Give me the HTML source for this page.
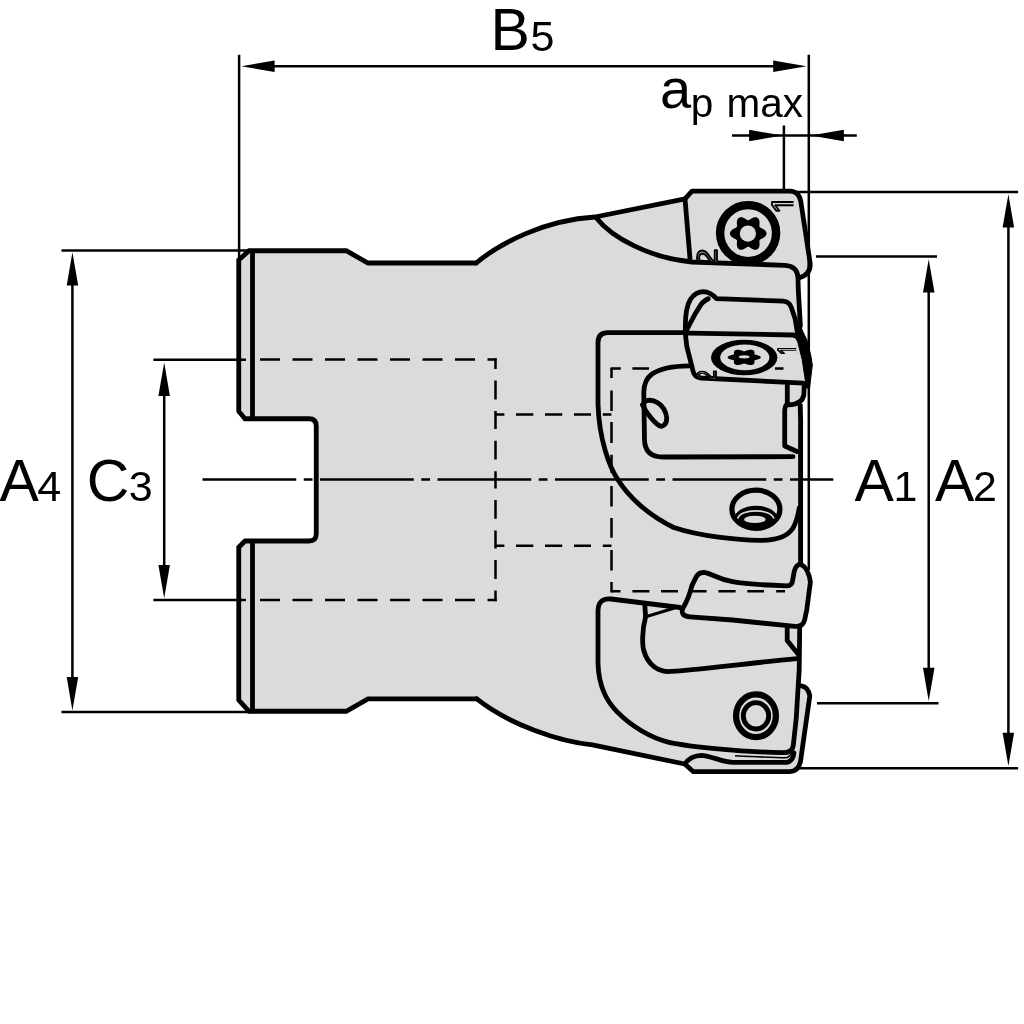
<!DOCTYPE html>
<html><head><meta charset="utf-8"><title>Milling cutter dimensions</title>
<style>html,body{margin:0;padding:0;background:#fff;}svg{display:block;filter:grayscale(1);}</style>
</head><body>
<svg width="1024" height="1024" viewBox="0 0 1024 1024">
<rect width="1024" height="1024" fill="#fff"/>
<g fill="#dbdbdb" stroke="none">
<path d="M238.75,260 L249,250.75 L346.25,250.75 L368,263 L476.25,263 C500,243 545,220 595,217 L685,198.8 L692,191.2 L790,191.2 Q799,191.5 800.8,201.5 L810,262 Q811.5,274 800,277.5 L800.5,564 L795,750 L800.5,761.5 Q798,771 790,771.7 L693.4,771.7 L684.8,764 L592.4,744.9 C560,742 510,725 476.8,698.9 L368,698.9 L346.25,711.25 L249,711.25 L238.75,700 L238.75,547.25 L245,541 L311,541 Q316.25,541 316.25,536 L316.25,424 Q316.25,418.75 311,418.75 L245,418.75 L238.75,411.25 Z"/>
<path d="M687.5,333.5 L706,301 L717,299 L779.4,301.25 C790,302 794,310 796,318 L803.5,341 L810.5,364 Q811,376 803,381 L803,397 L800,402 L790,383 L700,379.4 Q694,379 692.5,373 L686,338 Z"/>
<path d="M801.25,564.5 L808.3,573 L809.8,582.5 L807.5,610.6 L804.4,623 L795,626.25 L795,570 Z"/>
<path d="M801.25,685.8 Q808.5,687 809.8,696 L800.5,761.5 L795,750 Z"/>
</g>
<g fill="none" stroke="#000" stroke-width="4.8" stroke-linejoin="round" stroke-linecap="round">
<path d="M476.25,263 L368,263 L346.25,250.75 L249,250.75 L238.75,260 L238.75,411.25 L245,418.75 L309,418.75 Q316.25,418.75 316.25,426 L316.25,534 Q316.25,541 309,541 L245,541 L238.75,547.25 L238.75,700 L249,711.25 L346.25,711.25 L368,698.9 L476.8,698.9" stroke-linejoin="miter"/>
<path d="M252.5,250.75 L252.5,418.75 M252.5,541 L252.5,711.25" stroke-linecap="butt"/>
<path d="M476.25,263 C500,243 545,220 595,217 L685,198.8"/>
<path d="M476.8,698.9 C510,725 560,742 592.4,744.9 L684.8,764"/>
<path d="M596,217.5 C612,238 650,258 692,262 L785,265.3 Q797.5,266 798,278 L798.3,290 L800.4,326"/>
<path d="M690,258.5 L685,198.8 L692,191.2 L790,191.2 Q799,191.5 800.8,201.5 L810,262 Q811.5,274 800,277.5"/>
<path d="M685.4,331 C685,318 686.5,306 690.3,299.5 C694,294 698.5,291.8 703.6,291.7 C709,291.8 713,295 716.5,298.6 L783.4,301.2 C788,301.5 790,304 791.25,307.3 L795.2,319 L797.5,333"/>
<path d="M708.3,298.75 C704,301 702,303 701.25,304.2 C698,309 692,319.5 689.5,324.5 L686.4,330.8"/>
<path d="M803.5,383.2 L701,378 Q694.5,377.5 693,371 L686.8,346.4 L685.6,336 Q685.3,333 688.5,333.1 L793,335 Q797,335.2 798.5,339"/>
<path d="M800.6,326 L803,332 L806.9,340 L810.8,355.6 L812.3,365 L810.8,377.5 L809.6,388 L806,388 L804.9,377.5 L802.2,359.5 L799.8,350.3 L797.3,340 L797.5,333 Z" fill="#000" stroke-width="1"/>
<path d="M787.3,384 L787.3,404.8 C796,405 802.5,402 803.9,394.7 L804.2,385"/>
<path d="M786.3,405 Q784.7,407 784.7,412 L784.7,446 L797,451.5"/>
<path d="M800.2,404 L800.6,420 L800.6,564" stroke-linecap="butt" stroke-width="4.9"/>
<path d="M686,332.7 L608,332.7 Q598,332.7 598,342.7 L598,404 C599,440 610,468 617.5,479 C629,498 650,516 673.75,527.5 C700,536.3 738,540.2 760,540.3 C776,540.4 788,536 793,528 C796.5,522 798,516 799.2,508"/>
<path d="M689.4,365.8 C672,366 660,368.5 652,374 C646,378.5 644,384 643.8,392 L644.5,440 Q645,457 663,457 L793,456.7"/>
<path d="M644,402 C652,397 665,404 666.7,417.8 C667,424 663,427 660,426 C654,423 646,412 642.5,405"/>
<path d="M695,579.4 Q698,571.5 705.5,572.6 C712,574 718,579 732.5,581.7 C745,584 770,585.3 787,585.8 C791.5,585.8 792.5,582 792.7,580 L794.2,571.5 Q796,564 801,564.3 Q808.5,568 810.4,582 L806.7,610.3 L804.6,620 Q803,627 795,626.4 L732.5,620 L690,616.9 Q680.5,616 682.5,609 C686,603 689.5,596 691.9,585.6 Z"/>
<path d="M680,607.5 L611,599 Q598,598 598,611 L598,663.75 C599,690 610,705 617.8,712.4 C630,725 650,738 670,742.6 C690,746.8 740,751.6 782.5,752.7 Q792,753 793.2,746 L796.2,718.8 L799.2,670 L799.7,626"/>
<path d="M644.8,604.4 L645.6,616.9 C642,630 642,645 644,651.25 C648,665 658,671 667.5,671.6 C690,671 740,664 797,658.6"/>
<path d="M645,617 L673.75,608.3" stroke-width="3"/>
<path d="M787.2,628 L787.2,640.6 L798,654"/>
<path d="M801.25,685.8 Q808.5,687 809.8,696 L800.5,761.5 Q798.5,771 790,771.7 L693.4,771.7 L684.8,764 Q690,756 701,755.3 C712,756 722,762 732.5,762.3 L787,762.3 Q793,761 794,753"/>
</g>
<circle cx="748.1" cy="233.1" r="28" fill="none" stroke="#000" stroke-width="8.4"/>
<path d="M766.50,233.50 L766.41,234.29 L766.14,235.07 L765.70,235.80 L765.13,236.48 L764.44,237.10 L763.67,237.65 L762.87,238.12 L762.06,238.55 L761.30,238.93 L760.61,239.29 L760.03,239.66 L759.61,240.09 L759.45,240.67 L759.41,241.35 L759.45,242.13 L759.50,242.98 L759.54,243.89 L759.53,244.83 L759.44,245.76 L759.25,246.67 L758.95,247.51 L758.53,248.25 L757.99,248.87 L757.35,249.35 L756.62,249.67 L755.81,249.82 L754.96,249.81 L754.08,249.65 L753.20,249.36 L752.35,248.97 L751.53,248.52 L750.76,248.03 L750.05,247.56 L749.39,247.14 L748.78,246.82 L748.20,246.68 L747.62,246.82 L747.01,247.14 L746.35,247.56 L745.64,248.03 L744.87,248.52 L744.05,248.97 L743.20,249.36 L742.32,249.65 L741.44,249.81 L740.59,249.82 L739.78,249.67 L739.05,249.35 L738.41,248.87 L737.87,248.25 L737.45,247.51 L737.15,246.67 L736.96,245.76 L736.87,244.83 L736.86,243.89 L736.90,242.98 L736.95,242.13 L736.99,241.35 L736.95,240.67 L736.79,240.09 L736.37,239.66 L735.79,239.29 L735.10,238.93 L734.34,238.55 L733.53,238.12 L732.73,237.65 L731.96,237.10 L731.27,236.48 L730.70,235.80 L730.26,235.07 L729.99,234.29 L729.90,233.50 L729.99,232.71 L730.26,231.93 L730.70,231.20 L731.27,230.52 L731.96,229.90 L732.73,229.35 L733.53,228.88 L734.34,228.45 L735.10,228.07 L735.79,227.71 L736.37,227.34 L736.79,226.91 L736.95,226.33 L736.99,225.65 L736.95,224.87 L736.90,224.02 L736.86,223.11 L736.87,222.17 L736.96,221.24 L737.15,220.33 L737.45,219.49 L737.87,218.75 L738.41,218.13 L739.05,217.65 L739.78,217.33 L740.59,217.18 L741.44,217.19 L742.32,217.35 L743.20,217.64 L744.05,218.03 L744.87,218.48 L745.64,218.97 L746.35,219.44 L747.01,219.86 L747.62,220.18 L748.20,220.32 L748.78,220.18 L749.39,219.86 L750.05,219.44 L750.76,218.97 L751.53,218.48 L752.35,218.03 L753.20,217.64 L754.08,217.35 L754.96,217.19 L755.81,217.18 L756.62,217.33 L757.35,217.65 L757.99,218.13 L758.53,218.75 L758.95,219.49 L759.25,220.33 L759.44,221.24 L759.53,222.17 L759.54,223.11 L759.50,224.02 L759.45,224.87 L759.41,225.65 L759.45,226.33 L759.61,226.91 L760.03,227.34 L760.61,227.71 L761.30,228.07 L762.06,228.45 L762.87,228.88 L763.67,229.35 L764.44,229.90 L765.13,230.52 L765.70,231.20 L766.14,231.93 L766.41,232.71Z" fill="#000"/>
<circle cx="747.9" cy="233.6" r="8.1" fill="#dbdbdb"/>
<ellipse cx="744.2" cy="357.5" rx="33.2" ry="17.8" fill="#000"/>
<ellipse cx="744.8" cy="357.4" rx="24.6" ry="12.8" fill="#dbdbdb"/>
<path d="M760.80,357.40 L760.72,357.77 L760.47,358.14 L760.08,358.48 L759.55,358.80 L758.93,359.09 L758.24,359.35 L757.51,359.57 L756.78,359.77 L756.08,359.95 L755.46,360.12 L754.93,360.29 L754.55,360.50 L754.40,360.77 L754.37,361.09 L754.40,361.46 L754.45,361.86 L754.49,362.28 L754.47,362.72 L754.39,363.16 L754.22,363.59 L753.95,363.98 L753.57,364.33 L753.08,364.62 L752.50,364.85 L751.83,365.00 L751.10,365.07 L750.33,365.07 L749.53,364.99 L748.74,364.85 L747.96,364.67 L747.22,364.46 L746.52,364.23 L745.88,364.01 L745.28,363.81 L744.73,363.66 L744.20,363.59 L743.67,363.66 L743.12,363.81 L742.52,364.01 L741.88,364.23 L741.18,364.46 L740.44,364.67 L739.66,364.85 L738.87,364.99 L738.07,365.07 L737.30,365.07 L736.57,365.00 L735.90,364.85 L735.32,364.62 L734.83,364.33 L734.45,363.98 L734.18,363.59 L734.01,363.16 L733.93,362.72 L733.91,362.28 L733.95,361.86 L734.00,361.46 L734.03,361.09 L734.00,360.77 L733.85,360.50 L733.47,360.29 L732.94,360.12 L732.32,359.95 L731.62,359.77 L730.89,359.57 L730.16,359.35 L729.47,359.09 L728.85,358.80 L728.32,358.48 L727.93,358.14 L727.68,357.77 L727.60,357.40 L727.68,357.03 L727.93,356.66 L728.32,356.32 L728.85,356.00 L729.47,355.71 L730.16,355.45 L730.89,355.23 L731.62,355.03 L732.32,354.85 L732.94,354.68 L733.47,354.51 L733.85,354.30 L734.00,354.03 L734.03,353.71 L734.00,353.34 L733.95,352.94 L733.91,352.52 L733.93,352.08 L734.01,351.64 L734.18,351.21 L734.45,350.82 L734.83,350.47 L735.32,350.18 L735.90,349.95 L736.57,349.80 L737.30,349.73 L738.07,349.73 L738.87,349.81 L739.66,349.95 L740.44,350.13 L741.18,350.34 L741.88,350.57 L742.52,350.79 L743.12,350.99 L743.67,351.14 L744.20,351.21 L744.73,351.14 L745.28,350.99 L745.88,350.79 L746.52,350.57 L747.22,350.34 L747.96,350.13 L748.74,349.95 L749.53,349.81 L750.33,349.73 L751.10,349.73 L751.83,349.80 L752.50,349.95 L753.08,350.18 L753.57,350.47 L753.95,350.82 L754.22,351.21 L754.39,351.64 L754.47,352.08 L754.49,352.52 L754.45,352.94 L754.40,353.34 L754.37,353.71 L754.40,354.03 L754.55,354.30 L754.93,354.51 L755.46,354.68 L756.08,354.85 L756.78,355.03 L757.51,355.23 L758.24,355.45 L758.93,355.71 L759.55,356.00 L760.08,356.32 L760.47,356.66 L760.72,357.03Z" fill="#000"/>
<ellipse cx="744.2" cy="356.8" rx="5.4" ry="1.6" fill="#dbdbdb"/>
<ellipse cx="755.9" cy="509.3" rx="24" ry="19.1" fill="none" stroke="#000" stroke-width="5.2"/>
<clipPath id="ch"><ellipse cx="755.9" cy="509.3" rx="24" ry="19.1"/></clipPath>
<ellipse cx="756" cy="518.3" rx="21.5" ry="12.6" fill="#000" clip-path="url(#ch)"/>
<ellipse cx="754.9" cy="519.4" rx="10.8" ry="3.6" fill="#dbdbdb"/>
<path d="M737.8,518.6 C740,508.2 771,508.2 773.8,518.6" fill="none" stroke="#dbdbdb" stroke-width="1.7"/>
<ellipse cx="756" cy="715.7" rx="19.9" ry="21.4" fill="none" stroke="#000" stroke-width="6.3"/>
<ellipse cx="756" cy="715.8" rx="12.7" ry="13.2" fill="none" stroke="#000" stroke-width="4.9"/>
<path d="M735,755.8 C755,756.8 775,757.8 785,757.8 Q790,757.5 791.5,753" fill="none" stroke="#000" stroke-width="1.6"/>
<defs><clipPath id="c1"><path d="M680,180 L718.6,180 L718.6,261.5 L690,259.5 Z"/></clipPath><clipPath id="c3"><rect x="760" y="190" width="33.6" height="30"/></clipPath><clipPath id="c4"><rect x="760" y="340" width="36.3" height="30"/></clipPath><clipPath id="c2"><path d="M686,334 L717.3,334 L717.3,379 L701,378 L693,372 Z"/></clipPath></defs>
<g font-family="'Liberation Sans', sans-serif" fill="#dbdbdb" stroke="#000" stroke-width="1.9" stroke-linejoin="round">
<g clip-path="url(#c3)"><text id="l1" transform="translate(797.5,214.2) rotate(-90)" font-size="36">1</text></g>
<g clip-path="url(#c1)"><text id="l2" transform="translate(717.3,267) rotate(-90) scale(1.1,1)" font-size="30">2</text></g>
<g clip-path="url(#c4)"><text id="l3" transform="translate(799.8,355.2) rotate(-90) scale(0.62,1)" font-size="32">1</text></g>
<g clip-path="url(#c2)"><text id="l4" transform="translate(716.3,381) rotate(-90) scale(0.72,1)" font-size="27">2</text></g>
</g>
<g fill="none" stroke="#000" stroke-width="2.5">
<path d="M260.0,359.5 L280.0,359.5 M292.5,359.5 L312.5,359.5 M325.0,359.5 L345.0,359.5 M357.5,359.5 L377.5,359.5 M390.0,359.5 L410.0,359.5 M422.5,359.5 L442.5,359.5 M455.0,359.5 L475.0,359.5 M487.5,359.5 L496.7,359.5"/>
<path d="M260.0,600 L280.0,600 M292.5,600 L312.5,600 M325.0,600 L345.0,600 M357.5,600 L377.5,600 M390.0,600 L410.0,600 M422.5,600 L442.5,600 M455.0,600 L475.0,600 M487.5,600 L496.7,600"/>
<path d="M495.5,358.3 L495.5,369 M495.5,380.6 L495.5,399.4 M495.5,411 L495.5,429 M495.5,440.8 L495.5,459.5 M495.5,471.2 L495.5,488.4 M495.5,500 L495.5,518.7 M495.5,530.5 L495.5,548.5 M495.5,560.1 L495.5,578.9 M495.5,590.5 L495.5,601.2"/>
<path d="M495.5,414.5 L504.4,414.5 M516,414.5 L533.3,414.5 M545,414.5 L562.2,414.5 M574,414.5 L591,414.5 M602.8,414.5 L611.4,414.5"/>
<path d="M495.5,545.8 L504.4,545.8 M516,545.8 L533.3,545.8 M545,545.8 L562.2,545.8 M574,545.8 L591,545.8 M602.8,545.8 L611.4,545.8"/>
<path d="M611.5,367.4 L611.5,378 M611.5,390.5 L611.5,411 M611.5,422 L611.5,443 M611.5,454.8 L611.5,472.8 M611.5,486 L611.5,506.4 M611.5,518 L611.5,537.7 M611.5,550 L611.5,570.5 M611.5,582 L611.5,592.5"/>
<path d="M611.5,368.6 L620.8,368.6 M632.4,368.6 L649,368.6 M775,368.6 L783.5,368.6"/>
<path d="M611.5,591.3 L620.5,591.3 M632.4,591.3 L649.4,591.3 M661,591.3 L678,591.3 M689.6,591.3 L706.6,591.3 M718.4,591.3 L735.6,591.3 M747.3,591.3 L764,591.3 M776.2,591.3 L785,591.3"/>
</g>
<path d="M202.5,479.5 L833.3,479.5" fill="none" stroke="#000" stroke-width="2.5" stroke-dasharray="93.75 7.5 8.75 7.5"/>
<g fill="none" stroke="#000" stroke-width="2.5">
<path d="M239.1,54.8 L239.1,258"/>
<path d="M808.8,54.8 L808.8,570"/>
<path d="M270,66.2 L778,66.2"/>
<path d="M783.9,125.5 L783.9,191"/>
<path d="M732,135.6 L856.8,135.6"/>
<path d="M792,192 L1018.1,192"/>
<path d="M798,768.2 L1018.1,768.2"/>
<path d="M1008.4,224 L1008.4,736"/>
<path d="M816,256.6 L937,256.6"/>
<path d="M817,703.2 L938.5,703.2"/>
<path d="M928.7,288 L928.7,672"/>
<path d="M61.5,250.5 L250,250.5"/>
<path d="M61.5,712.1 L250,712.1"/>
<path d="M72.4,282 L72.4,680"/>
<path d="M153.4,359.8 L246,359.8"/>
<path d="M153.4,600.1 L246,600.1"/>
<path d="M164.2,392 L164.2,568"/>
</g>
<path d="M241.3,66.2 L274.6,60.5 L274.6,72.0Z" fill="#000"/>
<path d="M806.5,66.2 L773.2,72.0 L773.2,60.5Z" fill="#000"/>
<path d="M782.4,135.6 L749.1,141.3 L749.1,129.8Z" fill="#000"/>
<path d="M810.6,135.6 L843.9,129.8 L843.9,141.3Z" fill="#000"/>
<path d="M1008.4,194.2 L1014.1,227.5 L1002.6,227.5Z" fill="#000"/>
<path d="M1008.4,766.0 L1002.6,732.7 L1014.1,732.7Z" fill="#000"/>
<path d="M928.7,259.2 L934.5,292.5 L923.0,292.5Z" fill="#000"/>
<path d="M928.7,701.0 L923.0,667.7 L934.5,667.7Z" fill="#000"/>
<path d="M72.4,252.3 L78.2,285.6 L66.7,285.6Z" fill="#000"/>
<path d="M72.4,710.4 L66.7,677.1 L78.2,677.1Z" fill="#000"/>
<path d="M164.2,362.6 L169.9,395.9 L158.4,395.9Z" fill="#000"/>
<path d="M164.2,598.2 L158.4,564.9 L169.9,564.9Z" fill="#000"/>
<g font-family="'Liberation Sans', Arial, sans-serif" fill="#000">
<text id="tB" x="490.5" y="50.4" font-size="59">B</text>
<text id="t5" x="530.6" y="50.6" font-size="43">5</text>
<text id="ta" x="660" y="108.4" font-size="56">a</text>
<text id="tp" x="690.8" y="117.3" font-size="40.5">p</text>
<text id="tmax" x="726.5" y="117.3" font-size="40.5">max</text>
<text id="tA1" x="854.5" y="501.2" font-size="59">A</text>
<text id="t1" x="893.6" y="501.2" font-size="43">1</text>
<text id="tA2" x="935" y="501.2" font-size="59">A</text>
<text id="t2" x="972.9" y="501.2" font-size="43">2</text>
<text id="tA4" x="-0.6" y="501.2" font-size="59">A</text>
<text id="t4" x="37.3" y="501.2" font-size="43">4</text>
<text id="tC" x="86.7" y="501.2" font-size="59">C</text>
<text id="t3" x="128.7" y="501.3" font-size="43">3</text>
</g>
</svg>
</body></html>
